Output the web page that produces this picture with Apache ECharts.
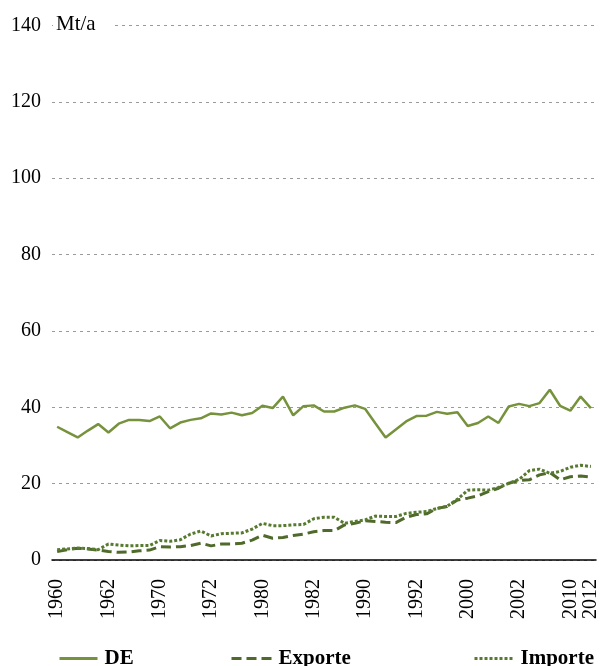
<!DOCTYPE html>
<html>
<head>
<meta charset="utf-8">
<script src="https://cdn.jsdelivr.net/npm/echarts@6/dist/echarts.min.js"></script>
<style>
  html, body { margin: 0; padding: 0; background: #fff; }
  #chart { width: 602px; height: 666px; }
</style>
</head>
<body>
<div id="chart"></div>
<script>
// Jahre 1960 - 2012
var years = ['1960','1961','1962','1963','1964','1965','1966','1967','1968','1969',
             '1970','1971','1972','1973','1974','1975','1976','1977','1978','1979',
             '1980','1981','1982','1983','1984','1985','1986','1987','1988','1989',
             '1990','1991','1992','1993','1994','1995','1996','1997','1998','1999',
             '2000','2001','2002','2003','2004','2005','2006','2007','2008','2009',
             '2010','2011','2012'];

// Beschriftung der x-Achse (wie im Original)
var tickIndex = [0, 5, 10, 15, 20, 25, 30, 35, 40, 45, 50, 52];
var tickText = ['1960','1962','1970','1972','1980','1982','1990','1992','2000','2002','2010','2012'];

var deValues = [34.9, 33.5, 32.1, 33.9, 35.6, 33.4, 35.7, 36.7, 36.7, 36.4,
                37.6, 34.5, 36.0, 36.7, 37.1, 38.4, 38.1, 38.6, 37.9, 38.5,
                40.4, 39.8, 42.8, 37.9, 40.3, 40.5, 38.9, 38.9, 39.9, 40.5,
                39.6, 35.8, 32.1, 34.2, 36.3, 37.7, 37.8, 38.8, 38.3, 38.7,
                35.1, 35.9, 37.6, 35.9, 40.2, 40.9, 40.3, 41.1, 44.6, 40.4,
                39.1, 42.8, 39.8];

var exportValues = [2.2, 2.7, 3.1, 2.9, 2.6, 2.2, 2.0, 2.1, 2.4, 2.6,
                    3.5, 3.4, 3.5, 3.8, 4.4, 3.7, 4.2, 4.2, 4.4, 5.2,
                    6.5, 5.7, 5.9, 6.4, 6.8, 7.4, 7.7, 7.7, 9.2, 9.6,
                    10.3, 10.1, 9.9, 9.8, 11.2, 11.9, 12.1, 13.5, 14.0, 15.7,
                    16.2, 16.8, 17.9, 18.8, 20.1, 20.8, 21.0, 22.3, 22.9, 21.0,
                    21.8, 22.0, 21.7];

var importValues = [2.7, 2.9, 3.1, 3.0, 2.7, 4.2, 3.9, 3.7, 3.8, 3.8,
                    5.1, 4.9, 5.3, 6.8, 7.6, 6.3, 6.9, 7.0, 7.1, 8.1,
                    9.6, 9.0, 9.0, 9.2, 9.3, 10.8, 11.2, 11.2, 9.6, 10.1,
                    10.5, 11.5, 11.4, 11.4, 12.2, 12.5, 12.7, 13.5, 14.1, 15.9,
                    18.3, 18.4, 18.3, 19.0, 20.1, 21.1, 23.4, 23.8, 22.7, 23.2,
                    24.3, 24.8, 24.5];

var serif = '"Liberation Serif", "DejaVu Serif", serif';
var colorDE = '#76923c';
var colorExp = '#4f6a2a';
var colorImp = '#577a30';

var legendText = { fontFamily: serif, fontSize: 21, fontWeight: 'bold', color: '#000', padding: [0, 0, 0, 2] };
// nur die Linie im Legendensymbol zeigen, nicht den Kreis
var legendItem = { opacity: 0 };
var legendLine = { width: 3 };

var myChart = echarts.init(document.getElementById('chart'));
var option = {
    animation: false,
    backgroundColor: '#fff',
    grid: { left: 52, right: 6, top: 25.5, bottom: 106 },
    legend: [
        { data: ['DE'], left: 53, top: 643, itemWidth: 38, itemHeight: 20, itemStyle: legendItem, lineStyle: legendLine, textStyle: legendText },
        { data: ['Exporte'], left: 225, top: 643, itemWidth: 40, itemHeight: 20, itemStyle: legendItem, lineStyle: legendLine, textStyle: legendText },
        { data: ['Importe'], left: 468, top: 643, itemWidth: 39, itemHeight: 20, itemStyle: legendItem, lineStyle: legendLine, textStyle: legendText }
    ],
    xAxis: {
        type: 'category',
        data: years,
        boundaryGap: true,
        axisLine: { lineStyle: { color: '#000', width: 1.5 } },
        axisTick: { show: false },
        axisLabel: {
            rotate: 90,
            margin: 19,
            color: '#000',
            fontFamily: serif,
            fontSize: 20,
            interval: function(idx){ return tickIndex.indexOf(idx) >= 0; },
            formatter: function(val, idx){ return tickText[tickIndex.indexOf(idx)]; }
        }
    },
    yAxis: {
        type: 'value',
        min: 0,
        max: 140,
        interval: 20,
        axisLine: { show: false },
        axisTick: { show: false },
        axisLabel: { color: '#000', fontFamily: serif, fontSize: 20, margin: 11 },
        splitLine: { lineStyle: { color: '#9a9a9a', width: 1, type: [3, 4] } }
    },
    graphic: [{
        type: 'text',
        left: 53,
        top: 14,
        z: 100,
        style: { text: 'Mt/a', font: '21px "Liberation Serif"', fill: '#000', backgroundColor: '#fff', padding: [0, 18, 0, 3] }
    }],
    series: [
        { name: 'DE', type: 'line', data: deValues, symbol: 'none',
          lineStyle: { color: colorDE, width: 2.5 }, itemStyle: { color: colorDE } },
        { name: 'Exporte', type: 'line', data: exportValues, symbol: 'none',
          lineStyle: { color: colorExp, width: 3, type: [10, 5] }, itemStyle: { color: colorExp } },
        { name: 'Importe', type: 'line', data: importValues, symbol: 'none',
          lineStyle: { color: colorImp, width: 3, type: [3, 2] }, itemStyle: { color: colorImp } }
    ]
};
myChart.setOption(option);
</script>
</body>
</html>
